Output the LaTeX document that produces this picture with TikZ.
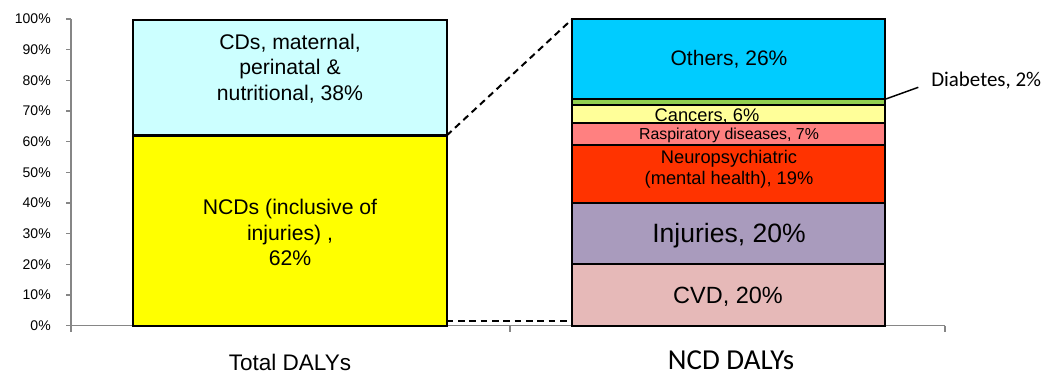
\documentclass[tikz,border=0pt]{standalone}
\usepackage{fontspec}
\setmainfont{Liberation Sans}
\newfontfamily\carlito{Carlito}
\definecolor{cdcol}{HTML}{CCFFFF}
\definecolor{ncdcol}{HTML}{FFFF00}
\definecolor{othcol}{HTML}{00CCFF}
\definecolor{diacol}{HTML}{92D050}
\definecolor{cancol}{HTML}{FFFF99}
\definecolor{rescol}{HTML}{FF8080}
\definecolor{neucol}{HTML}{FF3300}
\definecolor{injcol}{HTML}{A99BBD}
\definecolor{cvdcol}{HTML}{E6B9B8}
\definecolor{axcol}{HTML}{868686}
\tikzset{
  segbox/.style={draw=black,line width=1.6pt},
  axisline/.style={draw=axcol,line width=1pt},
  ticklbl/.style={anchor=east,inner sep=0pt,font=\fontsize{10.5}{12}\selectfont},
  barlbl/.style={inner sep=0pt,align=center},
  zoomline/.style={draw=black,line width=1.5pt,dash pattern=on 5pt off 3.5pt},
}
\begin{document}
\begin{tikzpicture}[x=0.75pt,y=-0.75pt]
\useasboundingbox (0,0) rectangle (1045,375);
% axes
\draw[axisline] (71,19) -- (71,332);
\draw[axisline] (66,325.6) -- (945,325.6);
\draw[axisline] (510,325.6) -- (510,332);
\draw[axisline] (945,325.6) -- (945,332);
\foreach \k in {0,...,10}{
  \draw[axisline] (66,{325.6-30.66*\k}) -- (71,{325.6-30.66*\k});
  \pgfmathtruncatemacro\pc{10*\k}
  \node[ticklbl] (t\k) at (51,{325.6-30.66*\k}) {\pc\%};
}
% left bar
\filldraw[segbox,fill=cdcol] (133.3,20) rectangle (446.7,135.5);
\filldraw[segbox,fill=ncdcol] (133.3,135.5) rectangle (446.7,325.6);
\coordinate (ltop) at (446.7,135.5);
\coordinate (lbot) at (446.7,321);
\node[barlbl,font=\fontsize{15.9}{19}\selectfont] (cds) at (290,68.5) {CDs, maternal,\\perinatal \&\\nutritional, 38\%};
\node[barlbl,font=\fontsize{15.9}{19}\selectfont] (ncds) at (290,232.5) {NCDs (inclusive of\\injuries) ,\\62\%};
% right bar
\filldraw[segbox,fill=othcol] (572.3,19) rectangle (885,98.7);
\node[barlbl,font=\fontsize{15.75}{18}\selectfont] (oth) at (729,59) {Others, 26\%};
\filldraw[segbox,fill=diacol] (572.3,98.7) rectangle (885,104.8);
\filldraw[segbox,fill=cancol] (572.3,104.8) rectangle (885,123.2);
\node[barlbl,font=\fontsize{13.7}{16}\selectfont] (can) at (707,116.5) {Cancers, 6\%};
\filldraw[segbox,fill=rescol] (572.3,123.2) rectangle (885,144.7);
\node[barlbl,font=\fontsize{11.9}{14}\selectfont] (res) at (729,135) {Raspiratory diseases, 7\%};
\filldraw[segbox,fill=neucol] (572.3,144.7) rectangle (885,203);
\node[barlbl,font=\fontsize{13.7}{15.75}\selectfont] (neu) at (729,169) {Neuropsychiatric\\(mental health), 19\%};
\filldraw[segbox,fill=injcol] (572.3,203) rectangle (885,264.3);
\node[barlbl,font=\fontsize{19.9}{22}\selectfont] (inj) at (729,236) {Injuries, 20\%};
\filldraw[segbox,fill=cvdcol] (572.3,264.3) rectangle (885,325.6);
\node[barlbl,font=\fontsize{17.6}{20}\selectfont] (cvd) at (728,297) {CVD, 20\%};
\coordinate (rtop) at (572.3,19);
\coordinate (rbot) at (572.3,321);
% zoom lines
\draw[zoomline] (ltop) -- (rtop);
\draw[zoomline] (lbot) -- (rbot);
% diabetes label
\coordinate (diapt) at (885,99.3);
\node[anchor=base west,inner sep=0pt,font=\carlito\fontsize{15.7}{18}\selectfont] (dia) at (931,86.7) {Diabetes, 2\%};
\coordinate (diaend) at (918.3,87.3);
\draw[black,line width=1.1pt] (diapt) -- (diaend);
% category labels
\node[inner sep=0pt,anchor=base,font=\fontsize{16.9}{20}\selectfont] (tot) at (290,370) {Total DALYs};
\node[inner sep=0pt,anchor=base,font=\carlito\fontsize{21.7}{24}\selectfont] (ncdd) at (731,369.3) {NCD DALYs};
\end{tikzpicture}
\end{document}
